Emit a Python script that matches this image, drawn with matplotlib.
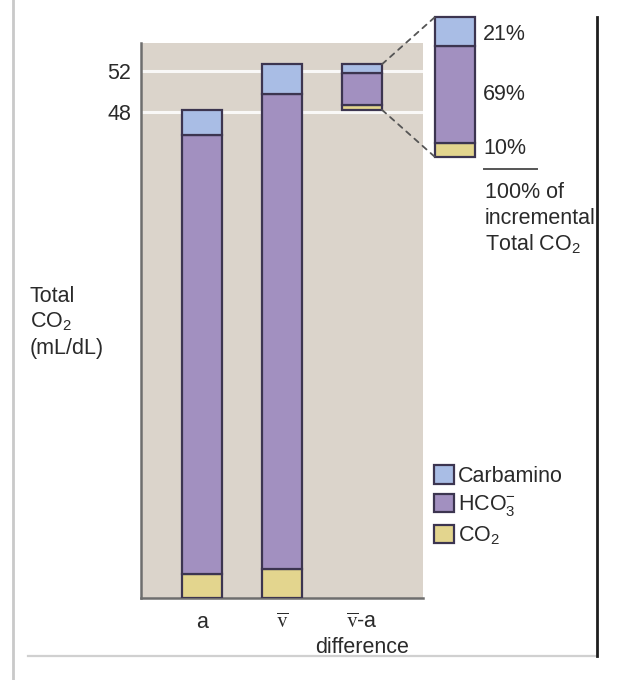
import matplotlib
matplotlib.use("Agg")
import matplotlib.pyplot as plt
from matplotlib.patches import Patch, ConnectionPatch
from matplotlib.lines import Line2D

plt.rcParams['font.family'] = ['Liberation Sans', 'DejaVu Sans']
plt.rcParams['mathtext.fontset'] = 'custom'
plt.rcParams['mathtext.rm'] = 'Liberation Sans'
plt.rcParams['mathtext.it'] = 'Liberation Sans:italic'
plt.rcParams['mathtext.bf'] = 'Liberation Sans:bold'

# ---- data ----
categories = ["a", r"$\overline{\mathrm{v}}$", "$\\overline{\\mathrm{v}}$-a\ndifference"]
bases = [0.0, 0.0, 48.2]
co2_vals = [2.4, 2.9, 0.5]
hco3_vals = [43.3, 46.9, 3.1]
carb_vals = [2.5, 2.9, 0.9]
yticks = [48, 52]
inset_pct = [10, 69, 21]
inset_labels = ["10%", "69%", "21%"]
legend_labels = ["Carbamino", r"HCO$_3^{-}$", r"CO$_2$"]

# ---- style ----
W, H = 623, 680
FS = 15.5
c_bg = '#dbd4cb'
c_carb = '#a9bde5'
c_hco3 = '#a290c0'
c_co2 = '#e3d58e'
c_edge = '#3c3550'
c_text = '#2a2a2a'

fig = plt.figure(figsize=(W / 100, H / 100), dpi=100)

def fx(px):
    return px / W

def fy(py):
    return 1 - py / H

# main axes
ax = fig.add_axes([fx(141), fy(598), fx(423) - fx(141), fy(43) - fy(598)])
ax.set_facecolor(c_bg)
ax.set_ylim(0, 54.8)
ax.set_xlim(-0.7625, 2.7625)
x = list(range(len(categories)))
bw = 0.5
b1 = [b + c for b, c in zip(bases, co2_vals)]
b2 = [b + h for b, h in zip(b1, hco3_vals)]
kw = dict(width=bw, edgecolor=c_edge, linewidth=1.6, zorder=3)
ax.bar(x, co2_vals, bottom=bases, color=c_co2, **kw)
ax.bar(x, hco3_vals, bottom=b1, color=c_hco3, **kw)
ax.bar(x, carb_vals, bottom=b2, color=c_carb, **kw)

ax.set_yticks(yticks)
ax.set_yticklabels([str(t) for t in yticks])
ax.yaxis.grid(True, color='white', linewidth=2.2, alpha=0.85)
ax.set_axisbelow(True)
ax.set_xticks(x)
ax.set_xticklabels(categories)
for t in ax.get_xticklabels():
    t.set_math_fontfamily('stix')
    t.set_linespacing(1.25)
ax.tick_params(axis='both', length=0, labelsize=FS, colors=c_text)
ax.tick_params(axis='y', pad=7)
ax.tick_params(axis='x', pad=10)
for s in ['top', 'right']:
    ax.spines[s].set_visible(False)
for s in ['left', 'bottom']:
    ax.spines[s].set_color('#6e6e6e')
    ax.spines[s].set_linewidth(1.8)

# inset (zoomed difference bar)
ax2 = fig.add_axes([fx(435), fy(157), fx(475) - fx(435), fy(17) - fy(157)])
ax2.set_xlim(-0.5, 0.5)
ax2.set_ylim(0, 100)
ax2.axis('off')
ib = 0
cols = [c_co2, c_hco3, c_carb]
for p, c in zip(inset_pct, cols):
    ax2.bar(0, p, bottom=ib, width=1.0, color=c, edgecolor=c_edge,
            linewidth=1.6, clip_on=False)
    ib += p

# dashed connector lines
top_diff = bases[2] + co2_vals[2] + hco3_vals[2] + carb_vals[2]
for (ya, yb) in [(top_diff, 100), (bases[2], 0)]:
    con = ConnectionPatch(xyA=(2 + bw / 2, ya), coordsA=ax.transData,
                          xyB=(-0.5, yb), coordsB=ax2.transData,
                          linestyle=(0, (3, 3)), color='#555555', linewidth=1.3)
    fig.add_artist(con)

# percent labels
ycent = [148, 95, 34]
for lab, yy in zip(inset_labels, ycent):
    fig.text(fx(483), fy(yy), lab, fontsize=FS, color=c_text, va='center', ha='left')
fig.add_artist(Line2D([fx(484), fx(537)], [fy(169), fy(169)], color='#555555', linewidth=1.4))
for lab, yy in zip(["100% of", "incremental", r"Total CO$_2$"], [192, 218, 244]):
    fig.text(fx(485), fy(yy), lab, fontsize=FS, color=c_text, va='center', ha='left')

# y label
for lab, yy in zip(["Total", r"CO$_2$", "(mL/dL)"], [302, 327, 354]):
    fig.text(fx(30), fy(yy), lab, fontsize=FS, color=c_text, va='baseline', ha='left')

# legend (one entry per row, positioned individually)
handles = [Patch(facecolor=c, edgecolor=c_edge, linewidth=1.6)
           for c in [c_carb, c_hco3, c_co2]]
for h, lab, yc in zip(handles, legend_labels, [476, 506, 536]):
    fig.legend([h], [lab], loc='center left',
               bbox_to_anchor=(fx(434), fy(yc)), bbox_transform=fig.transFigure,
               frameon=False, fontsize=FS, handlelength=0.93, handleheight=0.93,
               handletextpad=0.18, borderpad=0, borderaxespad=0,
               labelcolor=c_text)

# frame lines
fig.add_artist(Line2D([fx(13), fx(13)], [0, 1], color='#c9c9c9', linewidth=2))
fig.add_artist(Line2D([fx(28), fx(597)], [fy(656), fy(656)], color='#d0d0d0', linewidth=1.6))
fig.add_artist(Line2D([fx(597), fx(597)], [fy(17), fy(656)], color='#1e1e1e', linewidth=2))

fig.savefig("out.png", dpi=100)
